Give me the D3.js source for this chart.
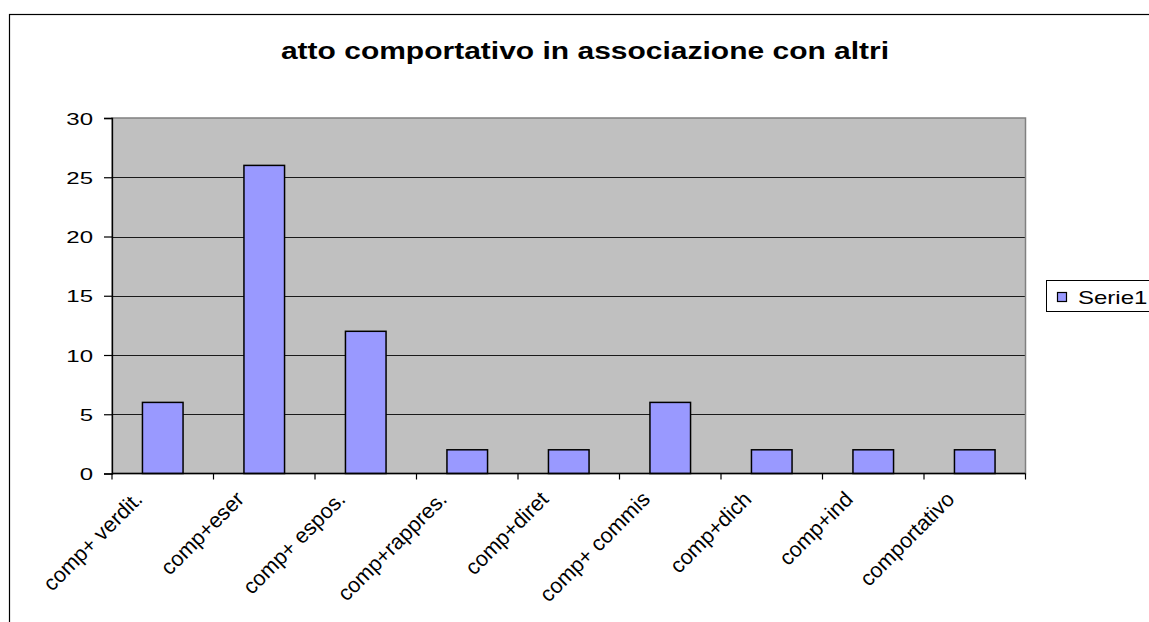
<!DOCTYPE html>
<html>
<head>
<meta charset="utf-8">
<script src="https://cdn.jsdelivr.net/npm/d3@7"></script>
<style>
  html, body { margin: 0; padding: 0; background: #fff; }
  svg { display: block; }
  text { font-family: "Liberation Sans", Arial, sans-serif; fill: #000; }
</style>
</head>
<body>
<svg id="chart" width="1149" height="622"></svg>
<script>
// Chart data
const categories = ["comp+ verdit.", "comp+eser", "comp+ espos.", "comp+rappres.", "comp+diret",
                    "comp+ commis", "comp+dich", "comp+ind", "comportativo"];
const values = [6, 26, 12, 2, 2, 6, 2, 2, 2];
const yTicks = [0, 5, 10, 15, 20, 25, 30];
const seriesName = "Serie1";
const title = "atto comportativo in associazione con altri";

const svg = d3.select("#chart");

// Plot area box
const plot = { left: 112, top: 118, right: 1025.5, bottom: 473.5 };

// Outer chart frame (continues past the right and bottom edges)
svg.append("rect")
  .attr("x", 9.5).attr("y", 14.5)
  .attr("width", 1200).attr("height", 700)
  .attr("fill", "#fff").attr("stroke", "#000").attr("stroke-width", 1.2);

const x = d3.scaleBand().domain(categories).range([plot.left, plot.right]).paddingInner(0).paddingOuter(0);
const y = d3.scaleLinear().domain([0, 30]).range([plot.bottom, plot.top]);

// Plot background
svg.append("rect")
  .attr("x", plot.left).attr("y", plot.top)
  .attr("width", plot.right - plot.left).attr("height", plot.bottom - plot.top)
  .attr("fill", "#C0C0C0");

// Horizontal gridlines
svg.append("g").selectAll("line")
  .data(yTicks.filter(t => t > 0 && t < 30))
  .join("line")
  .attr("x1", plot.left).attr("x2", plot.right)
  .attr("y1", d => Math.round(y(d)) + 0.5).attr("y2", d => Math.round(y(d)) + 0.5)
  .attr("stroke", "#1a1a1a").attr("stroke-width", 1);

// Plot area border
svg.append("rect")
  .attr("x", plot.left).attr("y", plot.top)
  .attr("width", plot.right - plot.left).attr("height", plot.bottom - plot.top)
  .attr("fill", "none").attr("stroke", "#808080").attr("stroke-width", 1.5);

// Bars (gap width 150%)
const barW = x.bandwidth() / 2.5;
svg.append("g").selectAll("rect")
  .data(values)
  .join("rect")
  .attr("x", (d, i) => x(categories[i]) + (x.bandwidth() - barW) / 2)
  .attr("y", d => y(d))
  .attr("width", barW)
  .attr("height", d => y(0) - y(d))
  .attr("fill", "#9999FF")
  .attr("stroke", "#000").attr("stroke-width", 1.5);

// Y axis
const yAxis = d3.axisLeft(y).tickValues(yTicks).tickSize(8).tickPadding(11).tickFormat(d3.format("d"));
const gy = svg.append("g").attr("transform", `translate(${plot.left},0)`).call(yAxis);
gy.select(".domain").attr("stroke", "#000").attr("stroke-width", 1.3);
gy.selectAll(".tick line").attr("stroke", "#000").attr("stroke-width", 1.2);
gy.selectAll(".tick text")
  .attr("font-size", 24).attr("font-family", null).attr("fill", "#000")
  .attr("dy", null).attr("y", 0)
  .attr("transform", "scale(1,0.72)")
  .attr("dominant-baseline", "central");

// X axis: ticks on category boundaries
const boundaries = categories.map(c => x(c)).concat([plot.right]);
const gx = svg.append("g");
gx.append("line")
  .attr("x1", plot.left).attr("x2", plot.right)
  .attr("y1", plot.bottom).attr("y2", plot.bottom)
  .attr("stroke", "#000").attr("stroke-width", 1.3);
gx.selectAll("line.tk")
  .data(boundaries)
  .join("line").attr("class", "tk")
  .attr("x1", d => d).attr("x2", d => d)
  .attr("y1", plot.bottom).attr("y2", plot.bottom + 6)
  .attr("stroke", "#000").attr("stroke-width", 1.2);

// Rotated category labels
gx.selectAll("text")
  .data(categories)
  .join("text")
  .attr("transform", d => `translate(${x(d) + x.bandwidth() / 2 - 19},${plot.bottom + 27}) rotate(-45)`)
  .attr("text-anchor", "end")
  .attr("font-size", 21.5)
  .text(d => d);

// Title
svg.append("text")
  .attr("transform", "translate(585,59) scale(1,0.82)")
  .attr("text-anchor", "middle")
  .attr("font-size", 30).attr("font-weight", "bold")
  .text(title);

// Legend
const lg = svg.append("g");
lg.append("rect")
  .attr("x", 1046.5).attr("y", 280.5).attr("width", 150).attr("height", 31)
  .attr("fill", "#fff").attr("stroke", "#000").attr("stroke-width", 1);
lg.append("rect")
  .attr("x", 1057.5).attr("y", 292.5).attr("width", 9).attr("height", 9)
  .attr("fill", "#9999FF").attr("stroke", "#000").attr("stroke-width", 1.2);
lg.append("text")
  .attr("transform", "translate(1078,303.5) scale(1,0.73)")
  .attr("font-size", 24)
  .text(seriesName);
</script>
</body>
</html>
